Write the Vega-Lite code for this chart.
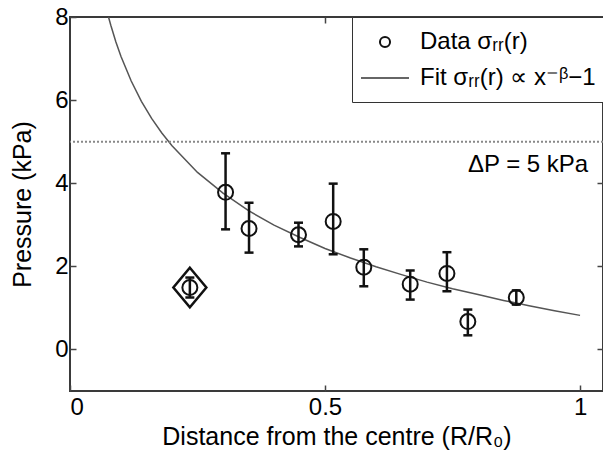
{
  "$schema": "https://vega.github.io/schema/vega-lite/v6.json",
  "width": 533,
  "height": 374,
  "autosize": {"type": "none"},
  "padding": {"left": 70, "top": 17, "right": 0, "bottom": 77},
  "config": {
    "font": "Liberation Sans",
    "view": {"stroke": "#3a3a3a", "strokeWidth": 2},
    "axis": {
      "domain": false, "grid": false, "ticks": true, "tickSize": -6, "tickColor": "#444", "tickWidth": 1.5,
      "labelFontSize": 24, "labelColor": "#000", "labelFont": "Liberation Sans",
      "titleFontSize": 25, "titleFontWeight": "normal", "titleColor": "#000", "titleFont": "Liberation Sans"
    }
  },
  "datasets": {
    "pts": [
      {"x": 0.305, "y": 3.78, "lo": 2.89, "hi": 4.72, "kind": "normal"},
      {"x": 0.351, "y": 2.91, "lo": 2.33, "hi": 3.53, "kind": "normal"},
      {"x": 0.448, "y": 2.76, "lo": 2.48, "hi": 3.05, "kind": "normal"},
      {"x": 0.516, "y": 3.08, "lo": 2.29, "hi": 3.99, "kind": "normal"},
      {"x": 0.576, "y": 1.98, "lo": 1.52, "hi": 2.41, "kind": "normal"},
      {"x": 0.667, "y": 1.57, "lo": 1.2, "hi": 1.9, "kind": "normal"},
      {"x": 0.739, "y": 1.83, "lo": 1.4, "hi": 2.34, "kind": "normal"},
      {"x": 0.78, "y": 0.67, "lo": 0.34, "hi": 0.96, "kind": "normal"},
      {"x": 0.875, "y": 1.25, "lo": 1.08, "hi": 1.42, "kind": "normal"},
      {"x": 0.235, "y": 1.49, "lo": 1.25, "hi": 1.73, "kind": "outlier"}
    ],
    "fit": [
      {"x": 0.0755, "y": 8.0}, {"x": 0.08, "y": 7.8}, {"x": 0.09, "y": 7.4}, {"x": 0.1, "y": 7.05},
      {"x": 0.12, "y": 6.46}, {"x": 0.14, "y": 5.97}, {"x": 0.16, "y": 5.56}, {"x": 0.18, "y": 5.21},
      {"x": 0.2, "y": 4.9}, {"x": 0.25, "y": 4.26}, {"x": 0.3, "y": 3.76}, {"x": 0.35, "y": 3.34},
      {"x": 0.4, "y": 2.99}, {"x": 0.45, "y": 2.7}, {"x": 0.5, "y": 2.43}, {"x": 0.55, "y": 2.2},
      {"x": 0.6, "y": 1.99}, {"x": 0.65, "y": 1.8}, {"x": 0.7, "y": 1.62}, {"x": 0.75, "y": 1.46},
      {"x": 0.8, "y": 1.32}, {"x": 0.85, "y": 1.18}, {"x": 0.9, "y": 1.05}, {"x": 0.95, "y": 0.93},
      {"x": 1.0, "y": 0.82}
    ]
  },
  "layer": [
    {
      "data": {"name": "fit"},
      "mark": {"type": "line", "color": "#555", "strokeWidth": 1.5},
      "encoding": {
        "x": {"field": "x", "type": "quantitative", "scale": {"domain": [0, 1.045], "nice": false, "zero": false},
          "axis": {"orient": "bottom", "values": [0, 0.5, 1], "format": "~g", "labelPadding": 10,
            "title": "Distance from the centre (R/R₀)", "titleBaseline": "alphabetic", "titleY": 53}},
        "y": {"field": "y", "type": "quantitative", "scale": {"domain": [-1, 8], "nice": false, "zero": false},
          "axis": {"orient": "left", "values": [0, 2, 4, 6, 8], "labelPadding": 8,
            "title": "Pressure (kPa)", "titleX": -48, "titleY": 187, "titleBaseline": "middle", "titleAlign": "center", "titleAngle": 270}}
      }
    },
    {
      "data": {"values": [{"p": 5}]},
      "mark": {"type": "rule", "color": "#888", "strokeWidth": 2, "strokeDash": [2, 2]},
      "encoding": {
        "y": {"field": "p", "type": "quantitative", "scale": {"domain": [-1, 8], "nice": false, "zero": false}, "axis": null}
      }
    },
    {
      "data": {"name": "pts"},
      "mark": {"type": "rule", "color": "#111", "strokeWidth": 2.5},
      "encoding": {
        "x": {"field": "x", "type": "quantitative", "scale": {"domain": [0, 1.045], "nice": false, "zero": false}, "axis": null},
        "y": {"field": "lo", "type": "quantitative", "scale": {"domain": [-1, 8], "nice": false, "zero": false}, "axis": null},
        "y2": {"field": "hi"}
      }
    },
    {
      "data": {"name": "pts"},
      "mark": {"type": "point", "shape": "M-1,0H1", "size": 81, "color": "#111", "strokeWidth": 2.5, "opacity": 1},
      "encoding": {
        "x": {"field": "x", "type": "quantitative", "scale": {"domain": [0, 1.045], "nice": false, "zero": false}, "axis": null},
        "y": {"field": "hi", "type": "quantitative", "scale": {"domain": [-1, 8], "nice": false, "zero": false}, "axis": null}
      }
    },
    {
      "data": {"name": "pts"},
      "mark": {"type": "point", "shape": "M-1,0H1", "size": 81, "color": "#111", "strokeWidth": 2.5, "opacity": 1},
      "encoding": {
        "x": {"field": "x", "type": "quantitative", "scale": {"domain": [0, 1.045], "nice": false, "zero": false}, "axis": null},
        "y": {"field": "lo", "type": "quantitative", "scale": {"domain": [-1, 8], "nice": false, "zero": false}, "axis": null}
      }
    },
    {
      "data": {"name": "pts"},
      "mark": {"type": "point", "shape": "circle", "size": 225, "filled": false, "color": "#111", "strokeWidth": 2, "opacity": 1},
      "encoding": {
        "x": {"field": "x", "type": "quantitative", "scale": {"domain": [0, 1.045], "nice": false, "zero": false}, "axis": null},
        "y": {"field": "y", "type": "quantitative", "scale": {"domain": [-1, 8], "nice": false, "zero": false}, "axis": null}
      }
    },
    {
      "data": {"name": "pts"},
      "transform": [{"filter": "datum.kind === 'outlier'"}],
      "mark": {"type": "point", "shape": "M0,-1.2L1,0L0,1.2L-1,0Z", "size": 1089, "filled": false, "color": "#111", "strokeWidth": 2.5, "opacity": 1},
      "encoding": {
        "x": {"field": "x", "type": "quantitative", "scale": {"domain": [0, 1.045], "nice": false, "zero": false}, "axis": null},
        "y": {"field": "y", "type": "quantitative", "scale": {"domain": [-1, 8], "nice": false, "zero": false}, "axis": null}
      }
    },
    {
      "data": {"values": [{"x": 1.016, "y": 4.45, "label": "ΔP = 5 kPa"}]},
      "mark": {"type": "text", "align": "right", "baseline": "middle", "fontSize": 24, "font": "Liberation Sans", "color": "#000"},
      "encoding": {
        "x": {"field": "x", "type": "quantitative", "scale": {"domain": [0, 1.045], "nice": false, "zero": false}, "axis": null},
        "y": {"field": "y", "type": "quantitative", "scale": {"domain": [-1, 8], "nice": false, "zero": false}, "axis": null},
        "text": {"field": "label"}
      }
    },
    {
      "data": {"name": "pts"},
      "mark": {"type": "point", "opacity": 0},
      "encoding": {
        "x": {"field": "x", "type": "quantitative", "scale": {"domain": [0, 1.045], "nice": false, "zero": false},
          "axis": {"orient": "top", "values": [0.5, 1], "labels": false, "title": null}},
        "y": {"field": "y", "type": "quantitative", "scale": {"domain": [-1, 8], "nice": false, "zero": false},
          "axis": {"orient": "right", "values": [0, 2, 4, 6, 8], "labels": false, "title": null}}
      }
    },
    {
      "data": {"values": [{"s": "Data σᵣᵣ(r)"}, {"s": "Fit σᵣᵣ(r) ∝ x⁻ᵝ−1"}]},
      "mark": {"type": "point", "opacity": 0, "filled": false},
      "encoding": {
        "shape": {"field": "s", "type": "nominal",
          "scale": {"domain": ["Data σᵣᵣ(r)", "Fit σᵣᵣ(r) ∝ x⁻ᵝ−1"],
            "range": ["M-0.42,0a0.42,0.42 0 1,0 0.84,0a0.42,0.42 0 1,0 -0.84,0", "M-2,0H2"]},
          "legend": {"title": null, "orient": "none", "legendX": 282, "legendY": 0,
            "symbolSize": 576, "symbolStrokeWidth": 2, "symbolOpacity": 1, "symbolFillColor": "transparent", "symbolOffset": 8,
            "labelFontSize": 24, "labelFont": "Liberation Sans", "labelColor": "#000", "labelOffset": 22, "labelLimit": 400,
            "padding": 12, "rowPadding": 11, "strokeColor": "#333", "fillColor": "#fff", "cornerRadius": 0}},
        "stroke": {"field": "s", "type": "nominal",
          "scale": {"domain": ["Data σᵣᵣ(r)", "Fit σᵣᵣ(r) ∝ x⁻ᵝ−1"], "range": ["#111", "#666"]}}
      }
    }
  ],
  "resolve": {"axis": {"x": "independent", "y": "independent"}}
}
